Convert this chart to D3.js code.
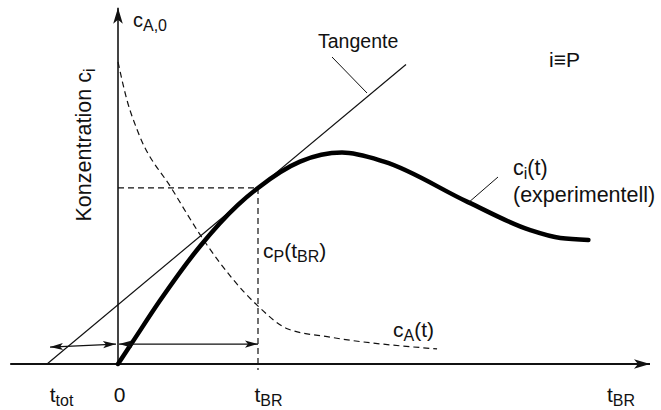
<!DOCTYPE html>
<html>
<head>
<meta charset="utf-8">
<script src="https://cdn.jsdelivr.net/npm/d3@7"></script>
<style>
  html, body { margin: 0; padding: 0; background: #fff; }
  svg { display: block; }
  text { font-family: "Liberation Sans", Arial, Helvetica, sans-serif; fill: #111; }
</style>
</head>
<body>
<svg id="chart" width="661" height="410"></svg>
<script>
// Reaction time (in units of t_BR) and product concentration (in units of c_A,0)
const tProduct = [0, 0.1, 0.3, 0.586, 0.857, 1.0, 1.3, 1.6, 1.9, 2.5, 2.94, 3.16, 3.36];
const cProduct = [0, 0.07, 0.21, 0.39, 0.527, 0.583, 0.67, 0.70, 0.67, 0.536, 0.444, 0.417, 0.411];

// Reactant concentration c_A(t)
const tReactant = [0, 0.064, 0.143, 0.386, 0.636, 0.993, 1.214, 1.514, 2.279];
const cReactant = [1.0, 0.874, 0.768, 0.579, 0.394, 0.195, 0.116, 0.089, 0.050];

// Tangent through the point (t_BR, c_P(t_BR)), meeting the time axis at t_tot
const tTot = -0.507;
const tBR = 1.0;
const cPtBR = 0.583;
const tangentEndT = 2.057;

// Tick positions and labels on the time axis: [main text, subscript]
const timeTicks = [tTot, 0, tBR];
const timeTickLabels = [["t", "tot"], ["0", ""], ["t", "BR"]];

// Axis extents
const tAxisMin = -0.77, tAxisMax = 3.8, cAxisMax = 1.18;

const svg = d3.select("#chart");
const x = d3.scaleLinear().domain([0, 1]).range([118, 258]);
const y = d3.scaleLinear().domain([0, 1]).range([364, 62]);

const defs = svg.append("defs");
defs.append("marker")
  .attr("id", "headSmall")
  .attr("markerUnits", "userSpaceOnUse")
  .attr("viewBox", "-14 -5 15 10")
  .attr("refX", 0).attr("refY", 0)
  .attr("markerWidth", 15).attr("markerHeight", 10)
  .attr("orient", "auto-start-reverse")
  .append("path")
  .attr("d", "M0,0 L-13,-3.6 L-10,0 L-13,3.6 Z")
  .attr("fill", "#111");
defs.append("marker")
  .attr("id", "headAxis")
  .attr("markerUnits", "userSpaceOnUse")
  .attr("viewBox", "-17 -6 18 12")
  .attr("refX", 0).attr("refY", 0)
  .attr("markerWidth", 18).attr("markerHeight", 12)
  .attr("orient", "auto")
  .append("path")
  .attr("d", "M0,0 L-16,-4.8 L-12,0 L-16,4.8 Z")
  .attr("fill", "#111");

// Time axis (labels via d3.axisBottom, the line drawn with an arrowhead)
const xAxis = d3.axisBottom(x).tickValues(timeTicks).tickSize(0).tickPadding(0);
const gx = svg.append("g").attr("transform", `translate(0,${y(0)})`).call(xAxis);
gx.select(".domain").remove();
const tickDx = [14, 1, 10];
gx.selectAll(".tick text").each(function(d, i) {
  const t = d3.select(this);
  t.text(null)
    .attr("y", 38).attr("dy", null).attr("dx", tickDx[i])
    .attr("font-size", 21).attr("font-family", null)
    .attr("text-anchor", "middle").attr("fill", "#111");
  t.append("tspan").text(timeTickLabels[i][0]);
  if (timeTickLabels[i][1]) {
    t.append("tspan").attr("font-size", 16).attr("dy", 4).text(timeTickLabels[i][1]);
  }
});

svg.append("line")
  .attr("x1", x(tAxisMin)).attr("y1", y(0))
  .attr("x2", x(tAxisMax)).attr("y2", y(0))
  .attr("stroke", "#111").attr("stroke-width", 2)
  .attr("marker-end", "url(#headAxis)");

// Concentration axis
svg.append("line")
  .attr("x1", x(0)).attr("y1", y(0))
  .attr("x2", x(0)).attr("y2", y(cAxisMax))
  .attr("stroke", "#444").attr("stroke-width", 2)
  .attr("marker-end", "url(#headAxis)");

// Guide lines at (t_BR, c_P(t_BR))
svg.append("path")
  .attr("d", d3.line()([[x(0), y(cPtBR)], [x(tBR), y(cPtBR)], [x(tBR), y(-0.02)]]))
  .attr("fill", "none").attr("stroke", "#111").attr("stroke-width", 1.2)
  .attr("stroke-dasharray", "6,4");

// Tangent
const slope = cPtBR / (tBR - tTot);
svg.append("line")
  .attr("x1", x(tTot)).attr("y1", y(0))
  .attr("x2", x(tangentEndT)).attr("y2", y(slope * (tangentEndT - tTot)))
  .attr("stroke", "#111").attr("stroke-width", 1.2);

// Reactant curve c_A(t)
const line = d3.line().x(d => x(d[0])).y(d => y(d[1])).curve(d3.curveMonotoneX);
svg.append("path")
  .attr("d", line(d3.zip(tReactant, cReactant)))
  .attr("fill", "none").attr("stroke", "#111").attr("stroke-width", 1.2)
  .attr("stroke-dasharray", "6,4");

// Product curve c_i(t)
svg.append("path")
  .attr("d", line(d3.zip(tProduct, cProduct)))
  .attr("fill", "none").attr("stroke", "#000").attr("stroke-width", 4.5)
  .attr("stroke-linecap", "round");

// Time spans with double arrows
svg.append("line")
  .attr("x1", x(tTot) + 3).attr("y1", y(0.056))
  .attr("x2", x(0) - 2).attr("y2", y(0.066))
  .attr("stroke", "#111").attr("stroke-width", 1.2)
  .attr("marker-start", "url(#headSmall)").attr("marker-end", "url(#headSmall)");
svg.append("line")
  .attr("x1", x(0) + 1).attr("y1", y(0.066))
  .attr("x2", x(tBR)).attr("y2", y(0.066))
  .attr("stroke", "#111").attr("stroke-width", 1.2)
  .attr("marker-start", "url(#headSmall)").attr("marker-end", "url(#headSmall)");

// Leader lines
svg.append("line").attr("x1", 332).attr("y1", 57).attr("x2", 367).attr("y2", 93)
  .attr("stroke", "#111").attr("stroke-width", 1);
svg.append("line").attr("x1", 468).attr("y1", 203).attr("x2", 498).attr("y2", 177)
  .attr("stroke", "#111").attr("stroke-width", 1);

// Text labels with subscripts
function label(px, py, parts, opts = {}) {
  const t = svg.append("text").attr("x", px).attr("y", py)
    .attr("font-size", opts.size || 21);
  if (opts.anchor) t.attr("text-anchor", opts.anchor);
  if (opts.rotate) t.attr("transform", `rotate(${opts.rotate},${px},${py})`);
  let shift = 0;
  parts.forEach(p => {
    const sub = p.sub === true;
    const target = sub ? 4 : 0;
    t.append("tspan")
      .attr("font-size", sub ? (opts.subSize || 16) : null)
      .attr("dy", target - shift)
      .text(p.text);
    shift = target;
  });
  return t;
}

label(133, 27, [{text: "c"}, {text: "A,0", sub: true}], {size: 20});
label(318, 48, [{text: "Tangente"}], {size: 19.5});
label(549, 67, [{text: "i\u2261P"}]);
label(513, 175, [{text: "c"}, {text: "i", sub: true}, {text: "(t)"}], {size: 21.5});
label(513, 202, [{text: "(experimentell)"}], {size: 21.5});
label(263, 258, [{text: "c"}, {text: "P", sub: true}, {text: "(t"}, {text: "BR", sub: true}, {text: ")"}]);
label(393, 337, [{text: "c"}, {text: "A", sub: true}, {text: "(t)"}]);
label(607, 402, [{text: "t"}, {text: "BR", sub: true}]);
label(91, 145, [{text: "Konzentration  c"}, {text: "i", sub: true}], {rotate: -90, anchor: "middle", size: 21.5});
</script>
</body>
</html>
